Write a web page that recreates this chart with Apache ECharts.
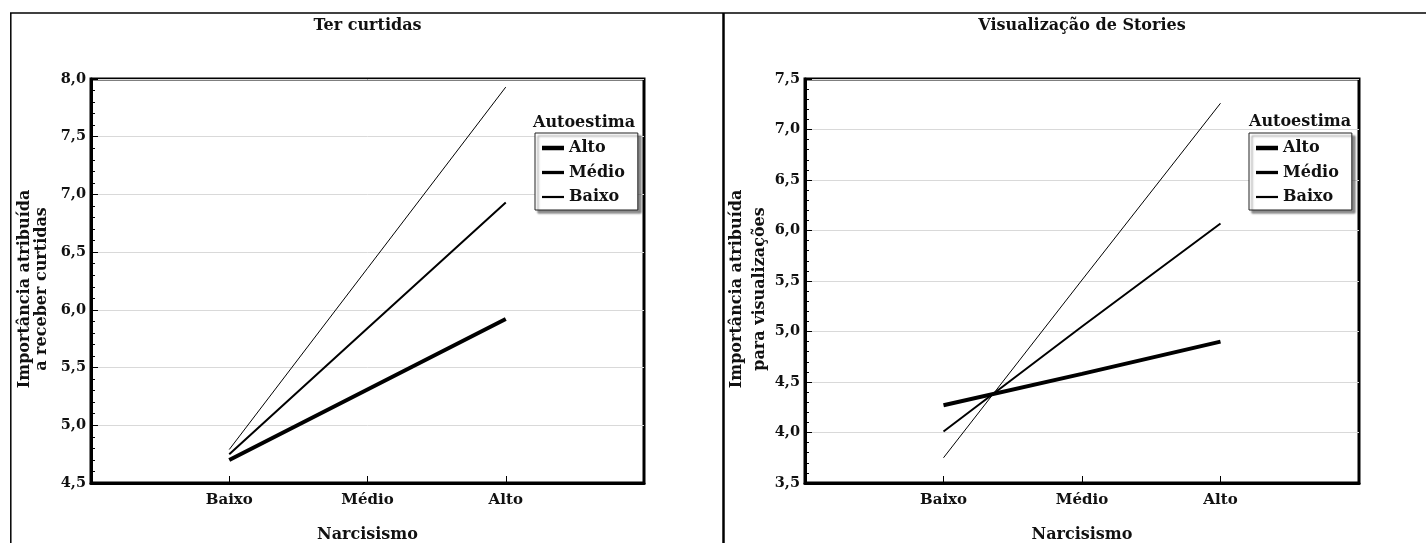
<!DOCTYPE html>
<html>
<head>
<meta charset="utf-8">
<script src="https://cdn.jsdelivr.net/npm/echarts@6/dist/echarts.min.js"></script>
<style>
  html, body { margin: 0; padding: 0; background: #fff; }
  #chart { width: 1426px; height: 543px; }
</style>
</head>
<body>
<div id="chart"></div>
<script>
var myChart = echarts.init(document.getElementById('chart'));

// niveis de narcisismo (eixo x) e de autoestima (series)
var narcisismo = ['Baixo', 'Médio', 'Alto'];
var autoestima = ['Alto', 'Médio', 'Baixo'];

// Ter curtidas
var curtidasAlto = [4.70, 5.31, 5.92];
var curtidasMedio = [4.75, 5.84, 6.93];
var curtidasBaixo = [4.79, 6.36, 7.93];

// Visualização de Stories
var storiesAlto = [4.27, 4.58, 4.90];
var storiesMedio = [4.01, 5.05, 6.07];
var storiesBaixo = [3.75, 5.51, 7.26];

var serif = 'DejaVu Serif';
var lineWidths = {'Alto': 4, 'Médio': 2, 'Baixo': 1};
var legendIcons = {
    'Alto': 'path://M0 0H22V4.5H0Z',
    'Médio': 'path://M0 0H22V3.3H0Z',
    'Baixo': 'path://M0 0H22V2.2H0Z'
};

var toPoints = function (values) {
    return values.map(function (v, i) { return [i + 1, v]; });
};

var makeSeries = function (name, values, idx) {
    return {
        name: name,
        type: 'line',
        xAxisIndex: idx,
        yAxisIndex: idx,
        data: toPoints(values),
        symbol: 'none',
        color: '#000',
        lineStyle: { color: '#000', width: lineWidths[name] },
        z: 5
    };
};

var makeXAxis = function (gridIndex) {
    return {
        type: 'value',
        gridIndex: gridIndex,
        min: 0,
        max: 4,
        interval: 1,
        name: 'Narcisismo',
        nameLocation: 'middle',
        nameGap: 44,
        nameMoveOverlap: false,
        nameTextStyle: { fontFamily: serif, fontWeight: 'bold', fontSize: 16, color: '#111' },
        axisLine: { show: true, lineStyle: { color: '#000', width: 3 } },
        axisTick: { show: true, inside: true, length: 7, customValues: [1, 2, 3], lineStyle: { color: '#000', width: 1 } },
        axisLabel: {
            margin: 10,
            customValues: [1, 2, 3],
            fontFamily: serif, fontWeight: 'bold', fontSize: 15, color: '#111',
            formatter: function (v) { return narcisismo[v - 1] || ''; }
        },
        splitLine: { show: false }
    };
};

var makeYAxis = function (gridIndex, min, max, title, lineHeight, gap) {
    return {
        type: 'value',
        gridIndex: gridIndex,
        min: min,
        max: max,
        interval: 0.5,
        name: title,
        nameLocation: 'middle',
        nameGap: gap,
        nameMoveOverlap: false,
        nameTextStyle: {
            fontFamily: serif, fontWeight: 'bold', fontSize: 16, color: '#111',
            lineHeight: lineHeight, padding: [0, 16, 0, 0]
        },
        axisLine: { show: true, lineStyle: { color: '#000', width: 3 } },
        axisTick: { show: true, inside: true, length: 7, lineStyle: { color: '#000', width: 1 } },
        minorTick: { show: true, splitNumber: 5, length: 4, lineStyle: { color: '#000', width: 1 } },
        axisLabel: {
            margin: 5,
            fontFamily: serif, fontWeight: 'bold', fontSize: 14.5, color: '#111',
            formatter: function (v) { return v.toFixed(1).replace('.', ','); }
        },
        splitLine: { show: true, lineStyle: { color: '#d9d9d9', width: 1 } },
        minorSplitLine: { show: false }
    };
};

var makeLegend = function (left) {
    return {
        orient: 'vertical',
        left: left,
        top: 133,
        padding: [7, 13, 5, 7],
        itemWidth: 22,
        itemHeight: 14,
        itemGap: 8.5,
        selectedMode: false,
        backgroundColor: '#fff',
        borderColor: '#222',
        borderWidth: 1,
        shadowColor: 'rgba(0,0,0,0.45)',
        shadowBlur: 2,
        shadowOffsetX: 3,
        shadowOffsetY: 3,
        itemStyle: { color: '#000', borderWidth: 0 },
        textStyle: { fontFamily: serif, fontWeight: 'bold', fontSize: 16, color: '#111' },
        data: autoestima.map(function (n) { return { name: n, icon: legendIcons[n] }; })
    };
};

var textEl = function (text, x, y, size) {
    return {
        type: 'text',
        x: x,
        y: y,
        style: {
            text: text,
            align: 'center',
            verticalAlign: 'middle',
            font: 'bold ' + size + 'px "' + serif + '"',
            fill: '#111'
        }
    };
};

option = {
    animation: false,
    backgroundColor: '#fff',
    grid: [
        { left: 91, top: 79, width: 553, height: 404, show: true, borderColor: '#000', borderWidth: 3, backgroundColor: 'transparent', outerBoundsMode: 'none' },
        { left: 805, top: 79, width: 554, height: 404, show: true, borderColor: '#000', borderWidth: 3, backgroundColor: 'transparent', outerBoundsMode: 'none' }
    ],
    xAxis: [makeXAxis(0), makeXAxis(1)],
    yAxis: [
        makeYAxis(0, 4.5, 8, 'Importância atribuída\na receber curtidas', 17, 41),
        makeYAxis(1, 3.5, 7.5, 'Importância atribuída\npara visualizações', 23, 34)
    ],
    legend: [makeLegend(535), makeLegend(1249)],
    graphic: [
        // molduras dos paineis
        { type: 'line', shape: { x1: 10, y1: 13, x2: 1426, y2: 13 }, style: { stroke: '#000', lineWidth: 1.5 } },
        { type: 'line', shape: { x1: 10.8, y1: 13, x2: 10.8, y2: 543 }, style: { stroke: '#000', lineWidth: 1.5 } },
        { type: 'line', shape: { x1: 723.5, y1: 13, x2: 723.5, y2: 543 }, style: { stroke: '#000', lineWidth: 2.5 } },
        textEl('Ter curtidas', 367.5, 26, 16),
        textEl('Visualização de Stories', 1082, 26, 16),
        textEl('Autoestima', 584, 123, 16),
        textEl('Autoestima', 1300, 122, 16)
    ],
    series: [
        makeSeries('Alto', curtidasAlto, 0),
        makeSeries('Médio', curtidasMedio, 0),
        makeSeries('Baixo', curtidasBaixo, 0),
        makeSeries('Alto', storiesAlto, 1),
        makeSeries('Médio', storiesMedio, 1),
        makeSeries('Baixo', storiesBaixo, 1)
    ]
};

myChart.setOption(option);
</script>
</body>
</html>
